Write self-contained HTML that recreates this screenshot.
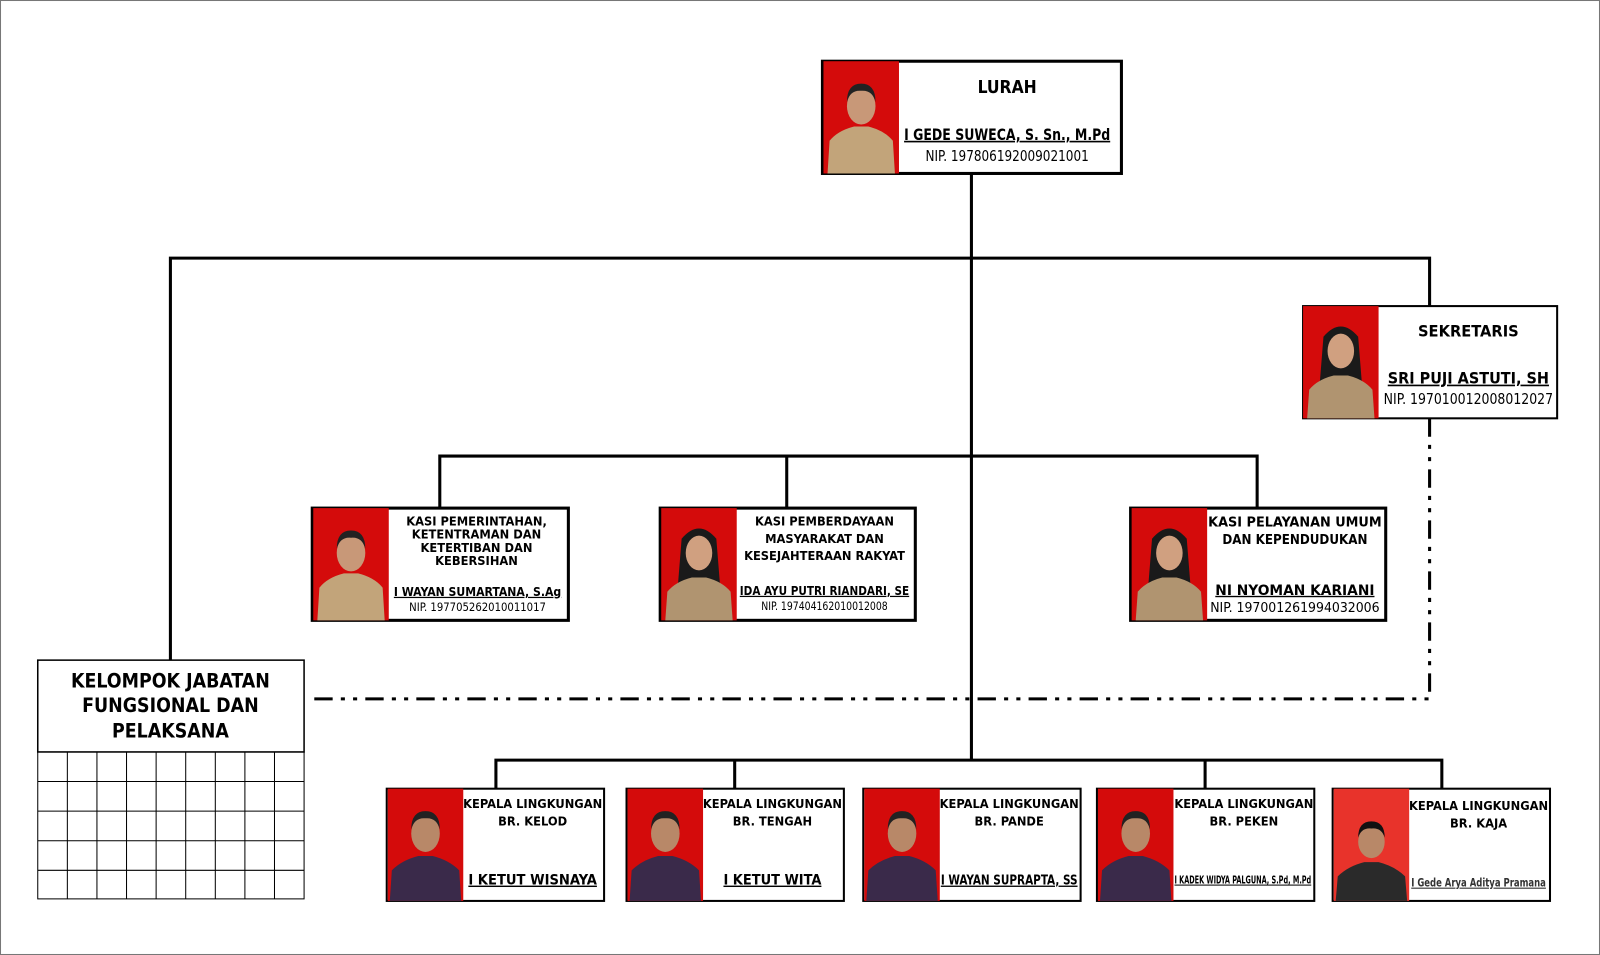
<!DOCTYPE html>
<html><head><meta charset="utf-8"><style>html,body{margin:0;padding:0;background:#fff}svg{display:block}</style></head>
<body>
<svg width="1600" height="955" viewBox="0 0 1568 936" preserveAspectRatio="none" xmlns="http://www.w3.org/2000/svg" font-family="'DejaVu Sans Condensed','Liberation Sans',sans-serif">
<rect x="0.5" y="0.5" width="1567" height="935" fill="#fff" stroke="#777" stroke-width="1"/>
<defs>
<g id="pk"><rect width="74" height="110" fill="#d40b0b"/><path d="M4 110 L6 78 Q14 68 30 64 L44 64 Q60 68 68 78 L70 110Z" fill="#c2a47a"/><ellipse cx="37" cy="44" rx="14" ry="18" fill="#c89878"/><path d="M23 40 Q23 22 37 22 Q51 22 51 40 Q48 28 37 29 Q26 28 23 40Z" fill="#222"/></g>
<g id="pf"><rect width="74" height="110" fill="#d40b0b"/><path d="M20 30 Q37 10 54 30 L58 80 L16 80Z" fill="#1a1a1a"/><path d="M4 110 L6 82 Q14 72 30 68 L44 68 Q60 72 68 82 L70 110Z" fill="#b09470"/><ellipse cx="37" cy="44" rx="13" ry="17" fill="#d0a080"/></g>
<g id="pb"><rect width="74" height="110" fill="#d40b0b"/><path d="M2 110 L4 80 Q14 70 30 66 L44 66 Q60 70 70 80 L72 110Z" fill="#3a2a4a"/><ellipse cx="37" cy="44" rx="14" ry="18" fill="#b88868"/><path d="M23 40 Q23 22 37 22 Q51 22 51 40 Q48 28 37 29 Q26 28 23 40Z" fill="#222"/></g>
</defs>
<g fill="none" stroke="#000" stroke-width="3">
<path d="M952 170 V745 M167 647 V253 H1401 V300 M431 498 V447 H1232 V498 M771 447 V498 M486 773 V745 H1413 V773 M720 745 V773 M1181 745 V773"/>
<path d="M1401 410 V685 H300" stroke-dasharray="18 8 4 8 4 8"/>
</g>
<!-- Lurah -->
<rect x="806" y="60" width="293" height="110" fill="#fff" stroke="#000" stroke-width="3"/>
<use href="#pk" x="807" y="60"/>
<g text-anchor="middle" fill="#000">
<text x="987" y="91" font-size="17" font-weight="bold">LURAH</text>
<text x="987" y="137" font-size="16" font-weight="bold" text-decoration="underline" textLength="202" lengthAdjust="spacingAndGlyphs">I GEDE SUWECA, S. Sn., M.Pd</text>
<text x="987" y="158" font-size="15" textLength="160" lengthAdjust="spacingAndGlyphs">NIP. 197806192009021001</text>
</g>
<!-- Sekretaris -->
<rect x="1277" y="300" width="249" height="110" fill="#fff" stroke="#000" stroke-width="2"/>
<use href="#pf" x="1277" y="300"/>
<g text-anchor="middle">
<text x="1439" y="330" font-size="16" font-weight="bold">SEKRETARIS</text>
<text x="1439" y="376" font-size="16" font-weight="bold" text-decoration="underline" textLength="158" lengthAdjust="spacingAndGlyphs">SRI PUJI ASTUTI, SH</text>
<text x="1439" y="396" font-size="15" textLength="166" lengthAdjust="spacingAndGlyphs">NIP. 197010012008012027</text>
</g>
<!-- Kasi 1 -->
<rect x="306" y="498" width="251" height="110" fill="#fff" stroke="#000" stroke-width="3"/>
<use href="#pk" x="307" y="498"/>
<g text-anchor="middle" font-size="12.5" font-weight="bold">
<text x="467" y="515">KASI PEMERINTAHAN,</text>
<text x="467" y="528">KETENTRAMAN DAN</text>
<text x="467" y="541">KETERTIBAN DAN</text>
<text x="467" y="554">KEBERSIHAN</text>
<text x="468" y="584" font-size="12" text-decoration="underline" textLength="164" lengthAdjust="spacingAndGlyphs">I WAYAN SUMARTANA, S.Ag</text>
<text x="468" y="599" font-size="11.5" font-weight="normal" textLength="134" lengthAdjust="spacingAndGlyphs">NIP. 197705262010011017</text>
</g>
<!-- Kasi 2 -->
<rect x="647" y="498" width="250" height="110" fill="#fff" stroke="#000" stroke-width="3"/>
<use href="#pf" x="648" y="498"/>
<g text-anchor="middle" font-size="12.5" font-weight="bold">
<text x="808" y="515">KASI PEMBERDAYAAN</text>
<text x="808" y="532">MASYARAKAT DAN</text>
<text x="808" y="549">KESEJAHTERAAN RAKYAT</text>
<text x="808" y="583" font-size="12" text-decoration="underline" textLength="166" lengthAdjust="spacingAndGlyphs">IDA AYU PUTRI RIANDARI, SE</text>
<text x="808" y="598" font-size="11.5" font-weight="normal" textLength="124" lengthAdjust="spacingAndGlyphs">NIP. 197404162010012008</text>
</g>
<!-- Kasi 3 -->
<rect x="1108" y="498" width="250" height="110" fill="#fff" stroke="#000" stroke-width="3"/>
<use href="#pf" x="1109" y="498"/>
<g text-anchor="middle" font-size="13" font-weight="bold">
<text x="1269" y="516" textLength="170" lengthAdjust="spacingAndGlyphs">KASI PELAYANAN UMUM</text>
<text x="1269" y="533">DAN KEPENDUDUKAN</text>
<text x="1269" y="583" font-size="13.5" text-decoration="underline" textLength="156" lengthAdjust="spacingAndGlyphs">NI NYOMAN KARIANI</text>
<text x="1269" y="600" font-size="13" font-weight="normal" textLength="166" lengthAdjust="spacingAndGlyphs">NIP. 197001261994032006</text>
</g>
<!-- Kelompok -->
<rect x="37" y="647" width="261" height="90" fill="#fff" stroke="#000" stroke-width="1.5"/>
<g text-anchor="middle" font-size="19" font-weight="bold">
<text x="167" y="674">KELOMPOK JABATAN</text>
<text x="167" y="698">FUNGSIONAL DAN</text>
<text x="167" y="723">PELAKSANA</text>
</g>
<g stroke="#000" stroke-width="1" fill="none">
<rect x="37" y="737" width="261" height="144"/>
<path d="M66 737V881M95 737V881M124 737V881M153 737V881M182 737V881M211 737V881M240 737V881M269 737V881M37 766H298M37 795H298M37 824H298M37 853H298"/>
</g>
<!-- Bottom -->
<g stroke="#000" stroke-width="2" fill="#fff">
<rect x="379" y="773" width="213" height="110"/><rect x="614" y="773" width="213" height="110"/><rect x="846" y="773" width="213" height="110"/><rect x="1075" y="773" width="213" height="110"/><rect x="1306" y="773" width="213" height="110"/>
</g>
<use href="#pb" x="380" y="773"/>
<use href="#pb" x="615" y="773"/>
<use href="#pb" x="847" y="773"/>
<use href="#pb" x="1076" y="773"/>
<g transform="translate(1307,773)"><rect width="74" height="110" fill="#e8332b"/><path d="M2 110 L4 86 Q14 76 30 72 L44 72 Q60 76 70 86 L72 110Z" fill="#2a2a2a"/><ellipse cx="37" cy="52" rx="13" ry="16" fill="#b88868"/><path d="M24 48 Q24 32 37 32 Q50 32 50 48 Q47 38 37 39 Q27 38 24 48Z" fill="#111"/></g>
<g text-anchor="middle" font-size="12.5" font-weight="bold">
<text x="522" y="792">KEPALA LINGKUNGAN</text><text x="522" y="809">BR. KELOD</text>
<text x="522" y="867" font-size="14" text-decoration="underline" textLength="126" lengthAdjust="spacingAndGlyphs">I KETUT WISNAYA</text>
<text x="757" y="792">KEPALA LINGKUNGAN</text><text x="757" y="809">BR. TENGAH</text>
<text x="757" y="867" font-size="14" text-decoration="underline" textLength="96" lengthAdjust="spacingAndGlyphs">I KETUT WITA</text>
<text x="989" y="792">KEPALA LINGKUNGAN</text><text x="989" y="809">BR. PANDE</text>
<text x="989" y="867" font-size="13" text-decoration="underline" textLength="134" lengthAdjust="spacingAndGlyphs">I WAYAN SUPRAPTA, SS</text>
<text x="1219" y="792">KEPALA LINGKUNGAN</text><text x="1219" y="809">BR. PEKEN</text>
<text x="1218" y="866" font-size="10" text-decoration="underline" textLength="134" lengthAdjust="spacingAndGlyphs">I KADEK WIDYA PALGUNA, S.Pd, M.Pd</text>
<text x="1449" y="794">KEPALA LINGKUNGAN</text><text x="1449" y="811">BR. KAJA</text>
<text x="1449" y="869" font-size="11" text-decoration="underline" textLength="132" lengthAdjust="spacingAndGlyphs" fill="#333">I Gede Arya Aditya Pramana</text>
</g>
</svg>
</body></html>
